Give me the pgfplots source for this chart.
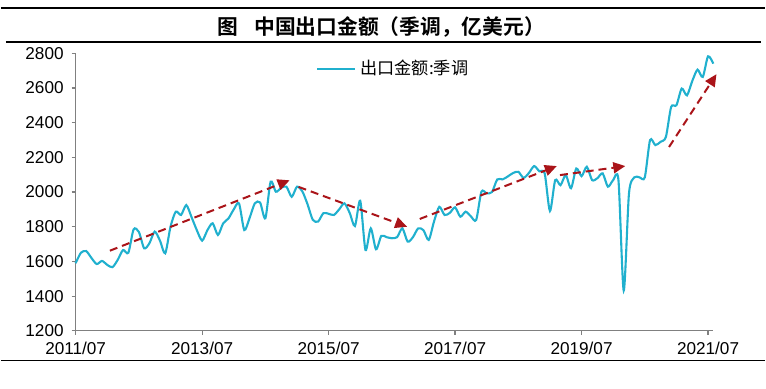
\documentclass[border=0pt]{standalone}
\usepackage{pgfplots}
\pgfplotsset{compat=1.18}
\usepackage{pgfplotstable}
\usepackage{fontspec}
\setmainfont{Liberation Sans}
\newfontfamily\cjk{Noto Sans CJK SC}
\newfontfamily\cjkb{Noto Sans CJK SC Bold}
\usetikzlibrary{arrows.meta}
\definecolor{linec}{RGB}{32,176,206}
\definecolor{arrc}{RGB}{170,20,25}
\definecolor{axc}{RGB}{128,128,128}

\pgfplotstableread{
m v
0 1590
1 1650
2 1660
3 1620
4 1585
5 1603
6 1580
7 1567
8 1610
9 1666
10 1650
11 1785
12 1770
13 1676
14 1705
15 1772
16 1720
17 1647
18 1800
19 1887
20 1868
21 1925
22 1855
23 1780
24 1720
25 1780
26 1820
27 1753
28 1820
29 1848
30 1900
31 1935
32 1781
33 1850
34 1935
35 1940
36 1849
37 2060
38 2002
39 2025
40 2031
41 1973
42 2031
43 2005
44 1930
45 1840
46 1830
47 1878
48 1875
49 1868
50 1900
51 1935
52 1880
53 1804
54 1950
55 1666
56 1791
57 1670
58 1747
59 1740
60 1734
61 1740
62 1791
63 1714
64 1740
65 1791
66 1780
67 1724
68 1830
69 1915
70 1868
71 1880
72 1912
73 1858
74 1887
75 1860
76 1839
77 2002
78 1993
79 2000
80 2073
81 2073
82 2090
83 2110
84 2117
85 2082
86 2110
87 2150
88 2120
89 2108
90 1891
91 2069
92 2040
93 2098
94 2022
95 2136
96 2092
97 2146
98 2069
99 2080
100 2108
101 2031
102 2069
103 2069
104 1432
105 1993
106 2085
107 2085
108 2085
109 2300
110 2271
111 2290
112 2318
113 2491
114 2501
115 2597
116 2558
117 2640
118 2706
119 2664
120 2783
121 2741
}\exports

\begin{document}
\begin{tikzpicture}[x=0.5pt,y=0.5pt]
\path (0,0) rectangle (766,389);
\draw[line width=0.8pt] (0,381) -- (766,381);
\draw[line width=0.8pt] (5,347) -- (762,347);
\draw[line width=0.6pt] (0,28) -- (766,28);
\node[font=\cjkb\fontsize{10.4}{12}\selectfont] at (381,362) {图\hspace{0.8em}中国出口金额（季调，亿美元）};
\begin{axis}[
  at={(37.5pt,28.75pt)}, anchor=origin,
  scale only axis, width=319.5pt, height=139pt,
  xmin=0, xmax=121, ymin=1200, ymax=2800,
  axis x line*=bottom, axis y line*=left,
  axis line style={axc, line width=0.7pt, -},
  xtick={0,24,48,72,96,120},
  xticklabels={2011/07,2013/07,2015/07,2017/07,2019/07,2021/07},
  ytick={1200,1400,...,2800},
  tick align=outside, major tick length=2pt,
  tick style={axc, line width=0.6pt},
  tick label style={font=\fontsize{8.6}{10}\selectfont, black},
  /pgf/number format/assume math mode=true,
  /pgf/number format/1000 sep={},
  yticklabel style={xshift=-0.5pt},
  xticklabel style={yshift=-0.3pt},
  clip=false,
  legend style={at={(0.377,0.944)}, anchor=west, draw=none, fill=none,
    inner sep=0pt, font=\cjk\fontsize{8.6}{10}\selectfont},
  legend image code/.code={\draw[#1] (0pt,0pt) -- (19pt,0pt);},
]
\addplot[linec, line width=1.05pt, smooth, tension=0.45] table[x=m,y=v] {\exports};
\addlegendentry{出口金额:季调}
\pgfplotsset{every axis plot/.append style={forget plot}}
\addplot[arrc, line width=1pt, dash pattern=on 4pt off 2.5pt, -{Triangle[length=6pt,width=5.5pt]}] coordinates {(6.5,1662) (40.6,2068)};
\addplot[arrc, line width=1pt, dash pattern=on 4pt off 2.5pt, -{Triangle[length=6pt,width=5.5pt]}] coordinates {(42.3,2030) (62.9,1800)};
\addplot[arrc, line width=1pt, dash pattern=on 4pt off 2.5pt, -{Triangle[length=6pt,width=5.5pt]}] coordinates {(65.3,1845) (91.3,2150)};
\addplot[arrc, line width=1pt, dash pattern=on 4pt off 2.5pt, -{Triangle[length=6pt,width=5.5pt]}] coordinates {(91.9,2098) (104.3,2150)};
\addplot[arrc, line width=1pt, dash pattern=on 4pt off 2.5pt, -{Triangle[length=6pt,width=5.5pt]}] coordinates {(112.6,2260) (121.6,2680)};
\end{axis}
\end{tikzpicture}
\end{document}
